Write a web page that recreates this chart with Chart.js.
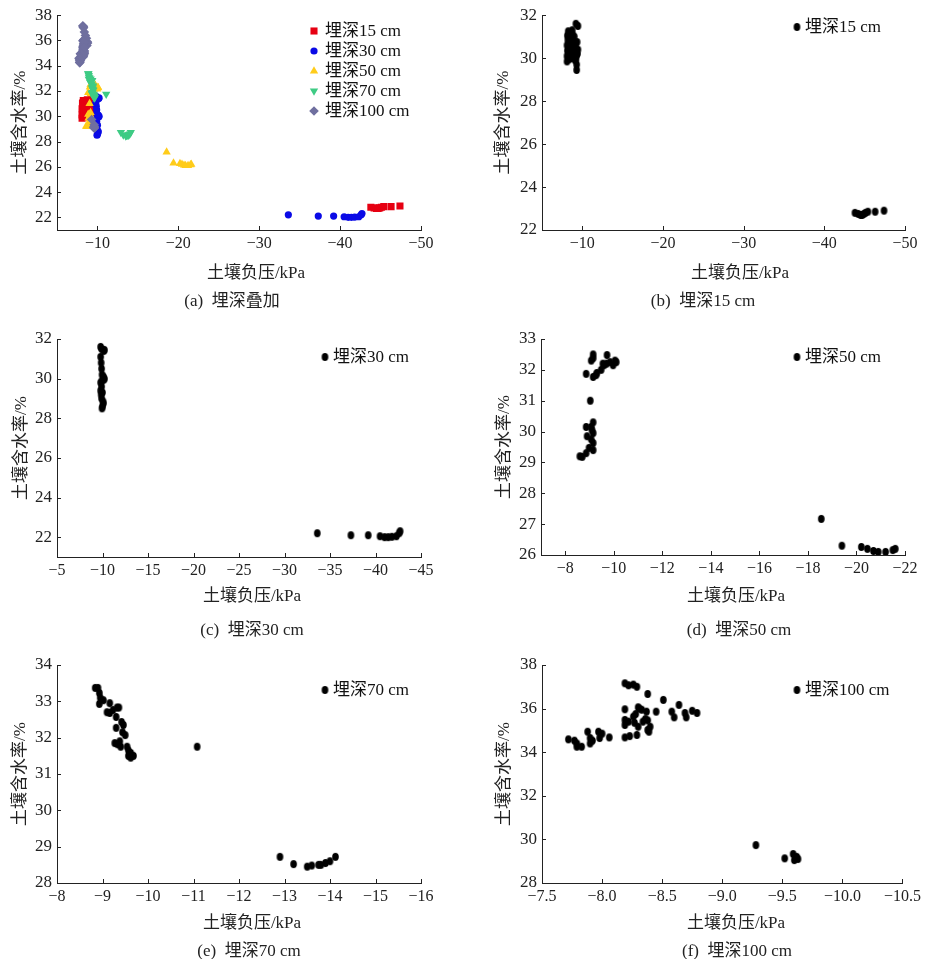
<!DOCTYPE html>
<html lang="zh">
<head>
<meta charset="utf-8">
<title>土壤负压与含水率</title>
<script src="https://cdn.jsdelivr.net/npm/chart.js@4.4.1/dist/chart.umd.min.js"></script>
<style>
  body { margin: 0; background: #fff; }
  #fig { position: relative; width: 925px; height: 959px; overflow: hidden; }
  #fig canvas { position: absolute; }
  .lbl {
    position: absolute;
    transform: translate(-50%, -50%);
    white-space: pre;
    font-family: "Liberation Serif", "Noto Sans CJK SC", serif;
    color: #222;
  }
</style>
</head>
<body>
<div id="fig"></div>
<script>
// ===== Data: [soil suction (kPa), water content (%)] =====

const depth15 = [
  [-8.1, 29.85], [-8.1, 30.1], [-8.15, 30.35], [-8.1, 30.6], [-8.2, 30.85], [-8.15, 31.05],
  [-8.25, 31.25], [-8.35, 29.95], [-8.3, 30.2], [-8.4, 30.45], [-8.35, 30.7], [-8.45, 30.95],
  [-8.5, 31.15], [-8.55, 30.3], [-8.6, 30.6], [-8.6, 30.05], [-8.7, 30.85], [-8.75, 31.3],
  [-8.85, 30.4], [-8.9, 30.15], [-8.95, 30.7], [-9.0, 31.0], [-9.05, 30.3], [-9.1, 29.9],
  [-9.2, 31.6], [-9.45, 31.5], [-9.15, 30.55], [-9.25, 30.1], [-9.3, 29.7], [-9.3, 29.45],
  [-9.4, 30.2], [-9.45, 30.4], [-9.35, 30.75], [-9.2, 29.95], [-8.65, 30.0], [-8.8, 31.1],
  [-43.8, 22.8], [-44.2, 22.75], [-44.5, 22.7], [-44.7, 22.7], [-44.9, 22.75], [-45.1, 22.8],
  [-45.4, 22.85], [-46.3, 22.85], [-47.4, 22.9]
];

const depth30 = [
  [-9.8, 31.6], [-9.9, 31.5], [-10.15, 31.4], [-10.2, 31.45], [-9.8, 31.1], [-9.85, 30.8],
  [-9.9, 30.5], [-10.1, 30.1], [-10.2, 30.0], [-10.15, 29.95], [-9.8, 29.8], [-9.95, 29.9],
  [-9.8, 29.4], [-9.85, 29.2], [-9.9, 29.0], [-10.05, 28.85], [-10.1, 28.75], [-10.0, 28.6],
  [-9.95, 28.5], [-9.9, 29.6], [-10.0, 29.3], [-9.95, 30.2],
  [-33.6, 22.2], [-37.3, 22.1], [-39.2, 22.1], [-40.5, 22.05], [-41.0, 22.0], [-41.4, 22.0],
  [-41.8, 22.02], [-42.3, 22.05], [-42.6, 22.2], [-42.7, 22.3]
];

const depth50 = [
  [-9.15, 32.38], [-9.15, 32.5], [-9.07, 32.3], [-8.86, 31.87], [-9.15, 31.77], [-9.27, 31.83],
  [-9.48, 32.0], [-9.6, 32.15], [-9.7, 32.2], [-9.72, 32.48], [-9.97, 32.15], [-10.1, 32.25],
  [-9.55, 32.2], [-9.3, 31.9], [-9.85, 32.25], [-10.05, 32.3],
  [-9.03, 31.0],
  [-9.15, 30.3], [-9.07, 30.15], [-8.86, 30.15], [-9.15, 29.95], [-8.9, 29.85], [-9.07, 29.75],
  [-9.15, 29.63], [-8.98, 29.47], [-8.86, 29.3], [-8.7, 29.18], [-8.6, 29.2], [-9.15, 29.4],
  [-9.1, 30.05],
  [-18.55, 27.17], [-19.4, 26.3], [-20.2, 26.26], [-20.45, 26.2], [-20.7, 26.13], [-20.9, 26.1],
  [-21.2, 26.1], [-21.5, 26.16], [-21.6, 26.2]
];

const depth70 = [
  [-8.84, 33.37], [-8.9, 33.37], [-8.93, 33.23], [-8.95, 33.1], [-9.02, 33.03], [-8.93, 32.93],
  [-9.16, 32.95], [-9.1, 32.7], [-9.16, 32.68], [-9.23, 32.76], [-9.32, 32.83], [-9.36, 32.83],
  [-9.3, 32.57], [-9.3, 32.27], [-9.42, 32.43], [-9.46, 32.35], [-9.44, 32.15], [-9.5, 32.07],
  [-9.27, 31.85], [-9.33, 31.82], [-9.4, 31.75], [-9.54, 31.75], [-9.57, 31.65], [-9.62, 31.58],
  [-9.62, 31.45], [-9.68, 31.5], [-9.57, 31.5], [-9.38, 31.9],
  [-11.08, 31.75],
  [-12.9, 28.72], [-13.2, 28.52], [-13.5, 28.45], [-13.6, 28.48], [-13.75, 28.5], [-13.8, 28.5],
  [-13.9, 28.55], [-14.0, 28.6], [-14.12, 28.72]
];

const depth100 = [
  [-7.72, 34.59], [-7.77, 34.53], [-7.79, 34.25], [-7.79, 34.4], [-7.83, 34.25], [-7.88, 34.94],
  [-7.9, 34.65], [-7.9, 34.4], [-7.92, 34.53], [-7.97, 34.94], [-7.98, 34.65], [-8.0, 34.85],
  [-8.06, 34.68], [-8.19, 34.68], [-8.23, 34.74], [-8.29, 34.79],
  [-8.19, 37.16], [-8.22, 37.07], [-8.26, 37.1], [-8.29, 37.0], [-8.38, 36.67], [-8.51, 36.4],
  [-8.64, 36.17], [-8.58, 35.86], [-8.6, 35.6], [-8.69, 35.8], [-8.7, 35.6], [-8.75, 35.9],
  [-8.79, 35.8], [-8.45, 35.86], [-8.19, 35.97], [-8.19, 35.48], [-8.19, 35.25], [-8.22, 35.4],
  [-8.26, 35.63], [-8.28, 35.75], [-8.3, 36.06], [-8.31, 36.0], [-8.33, 35.95], [-8.34, 35.4],
  [-8.3, 35.17], [-8.27, 35.35], [-8.36, 35.52], [-8.37, 35.86], [-8.38, 35.02], [-8.39, 34.94],
  [-8.4, 35.17], [-8.38, 35.46],
  [-9.28, 29.74], [-9.52, 29.13], [-9.59, 29.33], [-9.6, 29.05], [-9.62, 29.2], [-9.63, 29.1]
];

const depthSeries = [depth15, depth30, depth50, depth70, depth100];
const depthNames = ['埋深15 cm', '埋深30 cm', '埋深50 cm', '埋深70 cm', '埋深100 cm'];
const depthColors = ['#e60012', '#0a0ae6', '#ffcc1a', '#3ecb84', '#6f6f9f'];
const depthMarkers = ['rect', 'circle', 'triangle', 'triangle', 'rectRot'];
const markerTurns = [0, 0, 0, 180, 0];

const captions = ['(a)  埋深叠加', '(b)  埋深15 cm', '(c)  埋深30 cm', '(d)  埋深50 cm', '(e)  埋深70 cm', '(f)  埋深100 cm'];
const xTitle = '土壤负压/kPa';
const yTitle = '土壤含水率/%';

// ===== Setup =====

const FONT = '"Liberation Serif", "Noto Sans CJK SC", serif';
Chart.defaults.font.family = FONT;
Chart.defaults.color = '#222';

const fig = document.getElementById('fig');
const markerSizes = [5, 3.6, 4.8, 4.8, 4.8];

// black elliptical dot used in the single-depth panels
function makeDot(rx, ry) {
  const c = document.createElement('canvas');
  c.width = Math.ceil(rx * 2) + 2;
  c.height = Math.ceil(ry * 2) + 2;
  const g = c.getContext('2d');
  g.fillStyle = '#000';
  g.beginPath();
  g.ellipse(c.width / 2, c.height / 2, rx, ry, 0, 0, Math.PI * 2);
  g.fill();
  return c;
}
const dot = makeDot(3.3, 3.9);

const minus = (dec) => (v) => (dec ? v.toFixed(dec) : String(Math.round(v))).replace('-', '\u2212');

// ticks pointing into the plot
const innerTicks = {
  id: 'innerTicks',
  afterDraw(chart) {
    const { ctx, chartArea } = chart;
    const xs = chart.scales.x, ys = chart.scales.y;
    ctx.save();
    ctx.strokeStyle = '#222';
    ctx.lineWidth = 1;
    ctx.beginPath();
    xs.ticks.forEach(t => {
      const px = Math.round(xs.getPixelForValue(t.value)) + 0.5;
      ctx.moveTo(px, chartArea.bottom);
      ctx.lineTo(px, chartArea.bottom - 4);
    });
    ys.ticks.forEach(t => {
      const py = Math.round(ys.getPixelForValue(t.value)) + 0.5;
      ctx.moveTo(chartArea.left, py);
      ctx.lineTo(chartArea.left + 4, py);
    });
    ctx.stroke();
    ctx.restore();
  }
};

// legend drawn inside the plot
const insetLegend = {
  id: 'insetLegend',
  afterDraw(chart, args, opts) {
    const ctx = chart.ctx;
    ctx.save();
    ctx.font = opts.font;
    ctx.textBaseline = 'middle';
    chart.data.datasets.forEach((ds, i) => {
      const y = opts.y + i * opts.rowH;
      ctx.fillStyle = ds.backgroundColor;
      Chart.helpers.drawPoint(ctx, {
        pointStyle: ds.pointStyle, radius: ds.pointRadius,
        rotation: ds.pointRotation || 0, borderWidth: 0
      }, opts.x, y);
      ctx.fillStyle = '#111';
      ctx.fillText(ds.label, opts.x + opts.gap, y + 1);
    });
    ctx.restore();
  }
};

function addText(text, cx, cy, size) {
  const d = document.createElement('div');
  d.className = 'lbl';
  d.textContent = text;
  d.style.left = cx + 'px';
  d.style.top = cy + 'px';
  d.style.fontSize = size + 'px';
  fig.appendChild(d);
}

function panel(p) {
  const [bx, by, bw, bh] = p.box;
  const [pl, pt, pr, pb] = p.plot;
  const cv = document.createElement('canvas');
  cv.width = bw; cv.height = bh;
  cv.style.left = bx + 'px';
  cv.style.top = by + 'px';
  fig.appendChild(cv);

  const padLeft = p.yTitleX - 10 - bx;
  const yW = pl - bx - padLeft;
  const xH = 28;

  new Chart(cv, {
    type: 'scatter',
    data: { datasets: p.datasets },
    plugins: [innerTicks, insetLegend],
    options: {
      responsive: false,
      animation: false,
      layout: { padding: { left: padLeft, top: pt - by, right: bx + bw - pr, bottom: by + bh - pb - xH } },
      plugins: {
        legend: { display: false },
        tooltip: { enabled: false },
        insetLegend: p.legend
      },
      scales: {
        x: {
          type: 'linear', reverse: true,
          min: p.x[0], max: p.x[1],
          grid: { display: false, drawTicks: false },
          border: { display: true, color: '#222', width: 1 },
          ticks: { stepSize: p.x[2], includeBounds: false, padding: 4, font: { size: 16 }, callback: minus(p.x[3]) },
          afterFit: s => { s.height = xH; }
        },
        y: {
          type: 'linear',
          min: p.y[0], max: p.y[1],
          grid: { display: false, drawTicks: false },
          border: { display: true, color: '#222', width: 1 },
          ticks: { stepSize: p.y[2], includeBounds: false, padding: 5, font: { size: 17 } },
          title: { display: true, text: yTitle, font: { size: 17 }, padding: 0 },
          afterFit: s => { s.width = yW; }
        }
      }
    }
  });

  addText(xTitle, p.xTitle[0], p.xTitle[1], 17);
  addText(p.caption, p.capPos[0], p.capPos[1], 17);
}

function overlaySets() {
  return depthSeries.map((pts, i) => ({
    label: depthNames[i],
    data: pts,
    pointStyle: depthMarkers[i],
    pointRotation: markerTurns[i],
    pointRadius: markerSizes[i],
    pointBorderWidth: 0,
    backgroundColor: depthColors[i],
    pointBackgroundColor: depthColors[i],
    order: depthSeries.length - i
  }));
}

function singleSet(i) {
  return [{
    label: depthNames[i],
    data: depthSeries[i],
    pointStyle: dot,
    pointRadius: 3.5,
    pointBorderWidth: 0,
    backgroundColor: '#000',
    pointBackgroundColor: '#000'
  }];
}

const legendFont = '17px ' + FONT;

// ===== Panels =====

panel({
  box: [0, 0, 462, 258], plot: [57, 13, 421, 230], yTitleX: 20,
  x: [-50, -5, 10, 0], y: [21, 38, 2],
  datasets: overlaySets(),
  legend: { x: 314, y: 31, rowH: 20, gap: 11, font: legendFont },
  xTitle: [256, 270], caption: captions[0], capPos: [232, 298]
});

panel({
  box: [462, 0, 463, 258], plot: [542, 12, 905, 230], yTitleX: 503,
  x: [-50, -5, 10, 0], y: [22, 32, 2],
  datasets: singleSet(0),
  legend: { x: 335, y: 27, rowH: 20, gap: 8, font: legendFont },
  xTitle: [740, 270], caption: captions[1], capPos: [703, 298]
});

panel({
  box: [0, 315, 462, 270], plot: [57, 339, 421, 557], yTitleX: 21,
  x: [-45, -5, 5, 0], y: [21, 32, 2],
  datasets: singleSet(1),
  legend: { x: 325, y: 42, rowH: 20, gap: 8, font: legendFont },
  xTitle: [252, 593], caption: captions[2], capPos: [252, 627]
});

panel({
  box: [462, 315, 463, 270], plot: [541, 339, 905, 555], yTitleX: 504,
  x: [-22, -7, 2, 0], y: [26, 33, 1],
  datasets: singleSet(2),
  legend: { x: 335, y: 42, rowH: 20, gap: 8, font: legendFont },
  xTitle: [736, 593], caption: captions[3], capPos: [739, 627]
});

panel({
  box: [0, 645, 462, 270], plot: [57, 665, 421, 883], yTitleX: 20,
  x: [-16, -8, 1, 0], y: [28, 34, 1],
  datasets: singleSet(3),
  legend: { x: 325, y: 45, rowH: 20, gap: 8, font: legendFont },
  xTitle: [252, 920], caption: captions[4], capPos: [249, 948]
});

panel({
  box: [462, 645, 463, 270], plot: [542, 665, 905, 883], yTitleX: 504,
  x: [-10.5, -7.5, 0.5, 1], y: [28, 38, 2],
  datasets: singleSet(4),
  legend: { x: 335, y: 45, rowH: 20, gap: 8, font: legendFont },
  xTitle: [736, 920], caption: captions[5], capPos: [737, 948]
});
</script>
</body>
</html>
